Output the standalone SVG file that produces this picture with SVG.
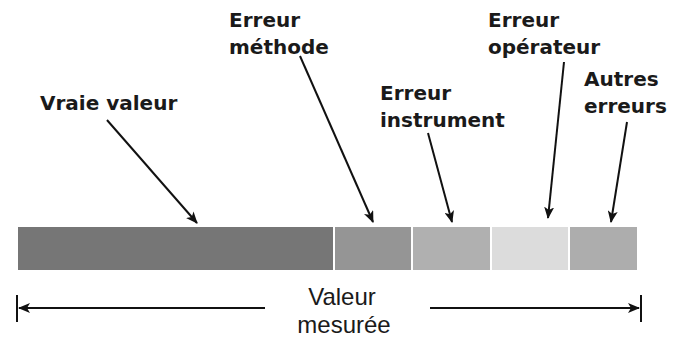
<svg xmlns="http://www.w3.org/2000/svg" width="687" height="356" viewBox="0 0 687 356">
<defs>
<marker id="ah" viewBox="0 0 12 10" refX="11" refY="5" markerWidth="12" markerHeight="10" markerUnits="userSpaceOnUse" orient="auto">
<path d="M0,0 L12,5 L0,10 L3,5 z" fill="#111"/>
</marker>
<style>
.lbl{font-family:"DejaVu Sans",Verdana,sans-serif;font-weight:bold;font-size:20px;fill:#1a1a1a}
.dim{font-family:"Liberation Sans",Arial,sans-serif;font-size:24px;fill:#1a1a1a}
.arr{stroke:#111;stroke-width:2;fill:none;marker-end:url(#ah)}
.seg{stroke:#fff;stroke-width:2}
</style>
</defs>
<rect width="687" height="356" fill="#fff"/>
<g id="bar">
<rect class="seg" x="17" y="226" width="317" height="45" fill="#767676"/>
<rect class="seg" x="334" y="226" width="78" height="45" fill="#959595"/>
<rect class="seg" x="412" y="226" width="79" height="45" fill="#b0b0b0"/>
<rect class="seg" x="491" y="226" width="78" height="45" fill="#dcdcdc"/>
<rect class="seg" x="569" y="226" width="69" height="45" fill="#adadad"/>
</g>
<g id="n-vraie"><text class="lbl" x="40" y="110">Vraie valeur</text></g>
<g id="n-methode"><text class="lbl" x="229" y="27">Erreur</text><text class="lbl" x="229" y="54">méthode</text></g>
<g id="n-instrument"><text class="lbl" x="380" y="100">Erreur</text><text class="lbl" x="380" y="127">instrument</text></g>
<g id="n-operateur"><text class="lbl" x="488" y="27">Erreur</text><text class="lbl" x="488" y="54">opérateur</text></g>
<g id="n-autres"><text class="lbl" x="584" y="86">Autres</text><text class="lbl" x="584" y="113">erreurs</text></g>
<g id="n-mesuree"><text class="dim" x="342" y="305" text-anchor="middle">Valeur</text><text class="dim" x="344" y="333" text-anchor="middle">mesurée</text></g>
<g id="connectors">
<line class="arr" x1="107" y1="120" x2="197" y2="223"/>
<line class="arr" x1="300" y1="56" x2="373" y2="222"/>
<line class="arr" x1="428" y1="133" x2="452" y2="222"/>
<line class="arr" x1="564" y1="62" x2="548" y2="218"/>
<line class="arr" x1="627" y1="122" x2="611" y2="222"/>
<line class="arr" x1="265" y1="308" x2="19" y2="308"/>
<line class="arr" x1="430" y1="308" x2="639" y2="308"/>
<line x1="17" y1="295" x2="17" y2="322" stroke="#111" stroke-width="2"/>
<line x1="641" y1="295" x2="641" y2="322" stroke="#111" stroke-width="2"/>
</g>
</svg>
